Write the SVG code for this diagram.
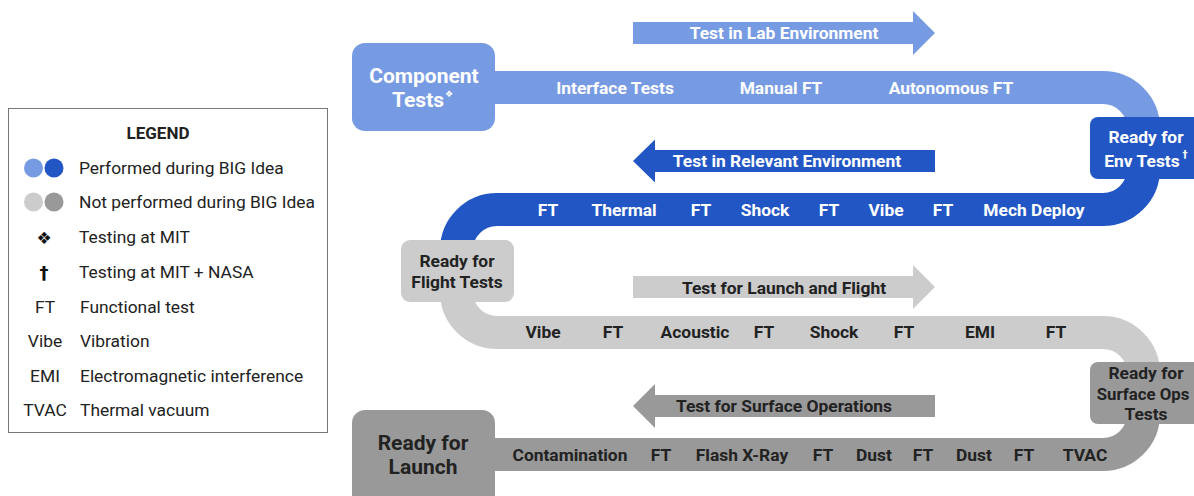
<svg xmlns="http://www.w3.org/2000/svg" width="1194" height="496" viewBox="0 0 1194 496">
<style>
text{font-family:Roboto,"Liberation Sans",Arial,sans-serif;dominant-baseline:central;text-anchor:middle}
.b{font-weight:700;font-size:17.4px}
.t{font-weight:700;font-size:21px}
.w{fill:#ffffff}
.d{fill:#222222}
.lg{font-size:17.4px;fill:#222222}
.lt{text-anchor:start}
.band{fill:none;stroke-width:33}
.sym{font-family:"DejaVu Sans",sans-serif}
</style>
<rect width="1194" height="496" fill="#ffffff"/>
<g id="connectors">
<path class="band" stroke="#779be3" d="M495,87.5 H1103 A40.5,40.5 0 0 1 1143.5,128 V150"/>
<path class="band" stroke="#2356c5" d="M1143.5,150 V169 A40.5,40.5 0 0 1 1103,209.5 H497 A40.5,40.5 0 0 0 456.5,250 V270"/>
<path class="band" stroke="#cccccc" d="M456.5,270 V292 A40.5,40.5 0 0 0 497,332.5 H1103 A40.5,40.5 0 0 1 1143.5,373 V390"/>
<path class="band" stroke="#999999" d="M1143.5,390 V414 A40.5,40.5 0 0 1 1103,454.5 H470"/>
</g>
<g id="phases">
<path fill="#779be3" d="M633,22 H913 V11 L935,33 L913,55 V44 H633 Z"/>
<text class="b w" x="784" y="33">Test in Lab Environment</text>
<path fill="#2356c5" d="M935,150 H655 V139.5 L633,161 L655,182.5 V172 H935 Z"/>
<text class="b w" x="787" y="161">Test in Relevant Environment</text>
<path fill="#cccccc" d="M633,276 H913 V265 L935,287 L913,309 V298 H633 Z"/>
<text class="b d" x="784" y="287.5">Test for Launch and Flight</text>
<path fill="#999999" d="M935,395 H655 V384 L633,406 L655,428 V417 H935 Z"/>
<text class="b d" x="784" y="406">Test for Surface Operations</text>
</g>
<g id="band-labels">
<text class="b w" x="615" y="88">Interface Tests</text>
<text class="b w" x="781" y="88">Manual FT</text>
<text class="b w" x="951" y="88">Autonomous FT</text>
<text class="b w" x="548" y="210">FT</text>
<text class="b w" x="624" y="210">Thermal</text>
<text class="b w" x="701" y="210">FT</text>
<text class="b w" x="765" y="210">Shock</text>
<text class="b w" x="829" y="210">FT</text>
<text class="b w" x="886" y="210">Vibe</text>
<text class="b w" x="943" y="210">FT</text>
<text class="b w" x="1034" y="210">Mech Deploy</text>
<text class="b d" x="543" y="332">Vibe</text>
<text class="b d" x="613" y="332">FT</text>
<text class="b d" x="695" y="332">Acoustic</text>
<text class="b d" x="764" y="332">FT</text>
<text class="b d" x="834" y="332">Shock</text>
<text class="b d" x="904" y="332">FT</text>
<text class="b d" x="980" y="332">EMI</text>
<text class="b d" x="1056" y="332">FT</text>
<text class="b d" x="570" y="455">Contamination</text>
<text class="b d" x="661" y="455">FT</text>
<text class="b d" x="742" y="455">Flash X-Ray</text>
<text class="b d" x="823" y="455">FT</text>
<text class="b d" x="874" y="455">Dust</text>
<text class="b d" x="923" y="455">FT</text>
<text class="b d" x="974" y="455">Dust</text>
<text class="b d" x="1024" y="455">FT</text>
<text class="b d" x="1085" y="455">TVAC</text>
</g>
<g id="component-tests">
<rect x="352" y="43" width="143" height="88" rx="13" fill="#779be3"/>
<text class="t w" x="424" y="76">Component</text>
<text class="t w" x="418" y="100">Tests</text>
<text class="w sym" style="font-size:9px" x="449" y="94">❖</text>
</g>
<g id="ready-env">
<rect x="1090" y="117" width="120" height="62" rx="8" fill="#2356c5"/>
<text class="b w" x="1146" y="137">Ready for</text>
<text class="b w" x="1142" y="161">Env Tests</text>
<text class="w sym" style="font-size:10px;font-weight:700" x="1185" y="154">†</text>
</g>
<g id="ready-flight">
<rect x="401" y="240" width="113" height="62" rx="9" fill="#cccccc"/>
<text class="b d" x="457" y="261">Ready for</text>
<text class="b d" x="457" y="282">Flight Tests</text>
</g>
<g id="ready-surface">
<rect x="1090" y="362" width="120" height="62" rx="8" fill="#999999"/>
<text class="b d" x="1146" y="373">Ready for</text>
<text class="d" style="font-weight:700;font-size:16.8px" x="1143" y="394">Surface Ops</text>
<text class="b d" x="1146" y="414">Tests</text>
</g>
<g id="ready-launch">
<rect x="352" y="410" width="143" height="100" rx="13" fill="#999999"/>
<text class="t d" x="423" y="443">Ready for</text>
<text class="t d" x="423" y="467">Launch</text>
</g>
<g id="legend">
<rect x="8.5" y="108.5" width="319" height="324" fill="#ffffff" stroke="#777777" stroke-width="1"/>
<text class="d" style="font-weight:700;font-size:17px" x="158" y="133">LEGEND</text>
<circle cx="33.5" cy="168" r="9.5" fill="#779be3"/>
<circle cx="54" cy="168" r="9.5" fill="#2356c5"/>
<text class="lg lt" x="79" y="168">Performed during BIG Idea</text>
<circle cx="33.5" cy="202" r="9.5" fill="#cccccc"/>
<circle cx="54" cy="202" r="9.5" fill="#999999"/>
<text class="lg lt" x="79" y="202">Not performed during BIG Idea</text>
<text class="sym" style="font-size:17px;fill:#111" x="44" y="238">❖</text>
<text class="lg lt" x="79" y="237">Testing at MIT</text>
<text class="sym" style="font-size:18px;font-weight:700;fill:#111" x="44" y="272">†</text>
<text class="lg lt" x="79" y="272">Testing at MIT + NASA</text>
<text class="lg" x="45" y="307">FT</text>
<text class="lg lt" x="80" y="307">Functional test</text>
<text class="lg" x="45" y="341">Vibe</text>
<text class="lg lt" x="80" y="341">Vibration</text>
<text class="lg" x="45" y="376">EMI</text>
<text class="lg lt" x="80" y="376">Electromagnetic interference</text>
<text class="lg" x="45" y="410">TVAC</text>
<text class="lg lt" x="80" y="410">Thermal vacuum</text>
</g>
</svg>
